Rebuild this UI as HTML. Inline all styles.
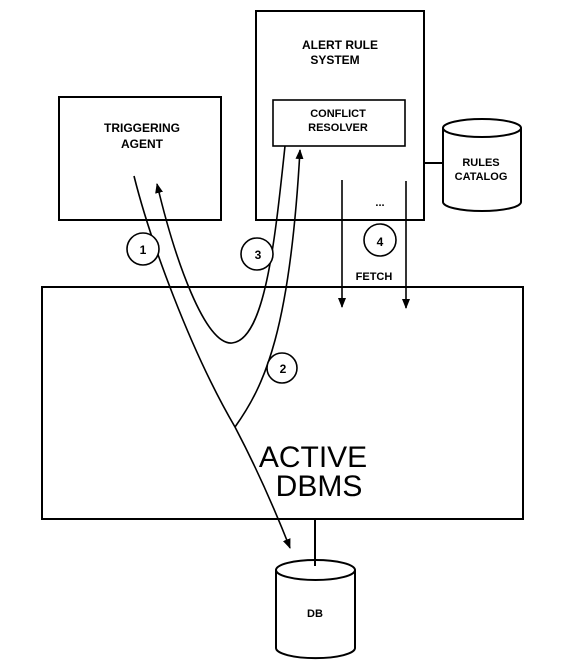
<!DOCTYPE html>
<html><head><meta charset="utf-8"><style>body{margin:0;background:#fff}svg{display:block}</style></head><body>
<svg width="572" height="665" viewBox="0 0 572 665" xmlns="http://www.w3.org/2000/svg" font-family="Liberation Sans, sans-serif">
<defs><marker id="a" markerWidth="8" markerHeight="10" refX="4" refY="9" orient="auto-start-reverse" markerUnits="userSpaceOnUse"><path d="M0,0 L4,10 L8,0 Z" fill="#000" transform="rotate(0)"/></marker>
<marker id="b" markerWidth="10" markerHeight="10" refX="9" refY="5" orient="auto" markerUnits="userSpaceOnUse"><path d="M0,1 L10,5 L0,9 Z" fill="#000"/></marker></defs>
<g fill="none" stroke="#000" stroke-width="2">
<rect x="59" y="97" width="162" height="123"/>
<rect x="256" y="11" width="168" height="209"/>
<rect x="273" y="100" width="132" height="46" stroke-width="1.6"/>
<line x1="424" y1="163" x2="443" y2="163"/>
<path d="M443,128 V202 A39,9 0 0 0 521,202 V128"/><ellipse cx="482" cy="128" rx="39" ry="9"/>
<rect x="42" y="287" width="481" height="232"/>
<line x1="315" y1="519" x2="315" y2="566"/>
<path d="M276,570 V648 A39,10 0 0 0 355,648 V570"/><ellipse cx="315.5" cy="570" rx="39.5" ry="10"/>
<g stroke-width="1.6">
<path d="M134,176 C150,240 190,350 235,427 C255,465 275,510 290,548" marker-end="url(#b)"/>
<path d="M235,427 C265,385 290,330 300,150" marker-end="url(#b)"/>
<path d="M285,146 C275,240 265,340 232,343 C205,345 175,260 157,184" marker-end="url(#b)"/>
<line x1="342" y1="180" x2="342" y2="307" marker-end="url(#b)"/>
<line x1="406" y1="181" x2="406" y2="308" marker-end="url(#b)"/>
</g>
<g stroke-width="1.6" fill="#fff">
<circle cx="143" cy="249" r="16"/><circle cx="257" cy="254" r="16"/><circle cx="380" cy="240" r="16"/><circle cx="282" cy="368" r="15"/>
</g></g>
<g font-weight="bold" text-anchor="middle" font-size="12">
<text x="143" y="254">1</text><text x="258" y="259">3</text><text x="380" y="246">4</text><text x="283" y="373">2</text>
<text x="142" y="132">TRIGGERING</text><text x="142" y="148">AGENT</text>
<text x="340" y="49">ALERT RULE</text><text x="335" y="64">SYSTEM</text>
<text x="338" y="117" font-size="11">CONFLICT</text><text x="338" y="131" font-size="11">RESOLVER</text>
<text x="481" y="166" font-size="11">RULES</text><text x="481" y="180" font-size="11">CATALOG</text>
<text x="374" y="280" font-size="11">FETCH</text>
<text x="380" y="206" font-size="11">...</text>
<text x="315" y="617" font-size="11">DB</text>
</g>
<g text-anchor="middle" font-size="30"><text x="313" y="467">ACTIVE</text><text x="319" y="496">DBMS</text></g>
</svg></body></html>
